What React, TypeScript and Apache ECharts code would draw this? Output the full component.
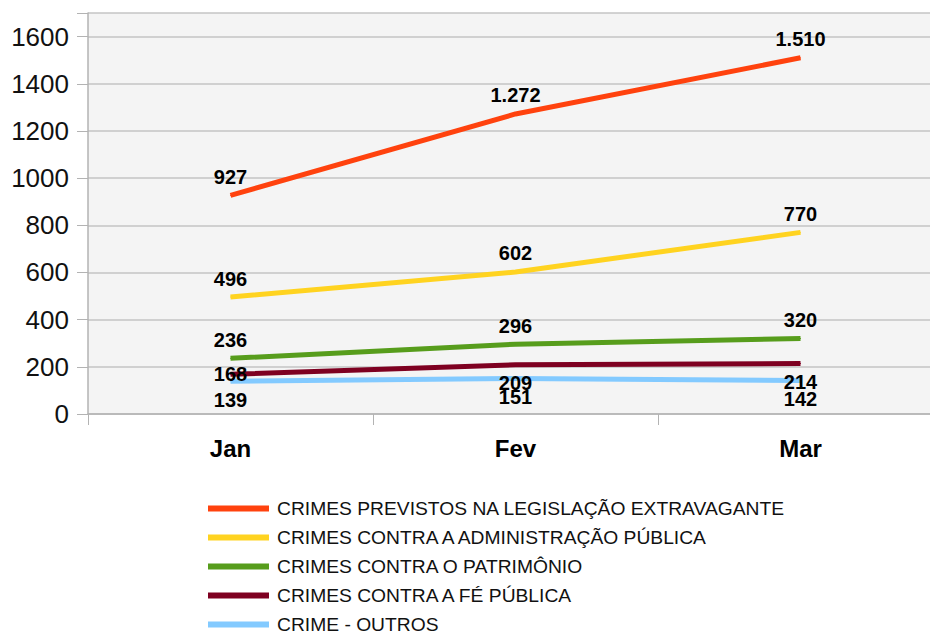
import React, { useEffect, useRef } from "react";
import * as echarts from "echarts";

const categories = ["Jan", "Fev", "Mar"];
const seriesNames = [
  "CRIMES PREVISTOS NA LEGISLAÇÃO EXTRAVAGANTE",
  "CRIMES CONTRA A ADMINISTRAÇÃO PÚBLICA",
  "CRIMES CONTRA O PATRIMÔNIO",
  "CRIMES CONTRA A FÉ PÚBLICA",
  "CRIME - OUTROS",
];
const legislacao = [927, 1272, 1510];
const administracao = [496, 602, 770];
const patrimonio = [236, 296, 320];
const fePublica = [168, 209, 214];
const outros = [139, 151, 142];
const colors = ["#ff420e", "#ffd320", "#579d1c", "#7e0021", "#83caff"];
const labelPositions = [
  ["top", "top", "top"],
  ["top", "top", "top"],
  ["top", "top", "top"],
  ["inside", "bottom", "bottom"],
  ["bottom", "bottom", "bottom"],
];
const yTicks = [0, 200, 400, 600, 800, 1000, 1200, 1400, 1600];

const fmt = (v: number) =>
  v >= 1000 ? Math.floor(v / 1000) + "." + String(v % 1000).padStart(3, "0") : String(v);

export default function App() {
  const ref = useRef<HTMLDivElement>(null);
  useEffect(() => {
    document.body.style.margin = "0";
    if (!ref.current) return;
    const chart = echarts.init(ref.current, undefined, { renderer: "svg" });
    const all = [legislacao, administracao, patrimonio, fePublica, outros];
    chart.setOption({
      animation: false,
      textStyle: { fontFamily: "Liberation Sans" },
      grid: {
        left: 88,
        top: 13,
        width: 855,
        height: 401,
        show: true,
        backgroundColor: "#f4f4f4",
        borderWidth: 0,
      },
      legend: {
        orient: "vertical",
        left: 203,
        top: 494,
        itemWidth: 61,
        itemHeight: 6,
        itemGap: 10,
        icon: "rect",
        textStyle: {
          fontSize: 19.25,
          color: "#111",
          fontFamily: "Liberation Sans",
          padding: [0, 0, 0, 3],
        },
        data: seriesNames,
      },
      xAxis: {
        type: "category",
        data: categories,
        boundaryGap: true,
        axisLine: { lineStyle: { color: "#b3b3b3", width: 1.5 } },
        axisTick: { show: true, length: 11, lineStyle: { color: "#b3b3b3" } },
        axisLabel: {
          margin: 22,
          fontSize: 24,
          fontWeight: "bold",
          color: "#000",
          fontFamily: "Liberation Sans",
        },
      },
      yAxis: {
        type: "value",
        min: 0,
        max: 1700,
        interval: 200,
        axisLine: { show: true, lineStyle: { color: "#b3b3b3", width: 1.5 } },
        axisTick: { show: true, length: 11, lineStyle: { color: "#b3b3b3" } },
        axisLabel: {
          margin: 19,
          fontSize: 26,
          color: "#111",
          fontFamily: "Liberation Sans",
          formatter: (v: number) => (yTicks.includes(v) ? String(v) : ""),
        },
        splitLine: { show: true, lineStyle: { color: "#c4c4c4", width: 1.5 } },
      },
      series: all.map((arr, i) => ({
        name: seriesNames[i],
        type: "line",
        data: arr.map((v, j) => ({
          value: v,
          label: { position: labelPositions[i][j] },
        })),
        symbol: "circle",
        symbolSize: 1,
        showSymbol: true,
        itemStyle: { color: colors[i] },
        lineStyle: { color: colors[i], width: 5 },
        z: 10 - i,
        label: {
          show: true,
          distance: 8,
          fontSize: 20,
          fontWeight: "bold",
          color: "#000",
          fontFamily: "Liberation Sans",
          formatter: (p: any) => fmt(p.value),
        },
      })),
    });
    return () => chart.dispose();
  }, []);
  return (
    <div style={{ width: 930, height: 633, overflow: "hidden", position: "relative" }}>
      <div ref={ref} style={{ width: 960, height: 680 }} />
    </div>
  );
}
